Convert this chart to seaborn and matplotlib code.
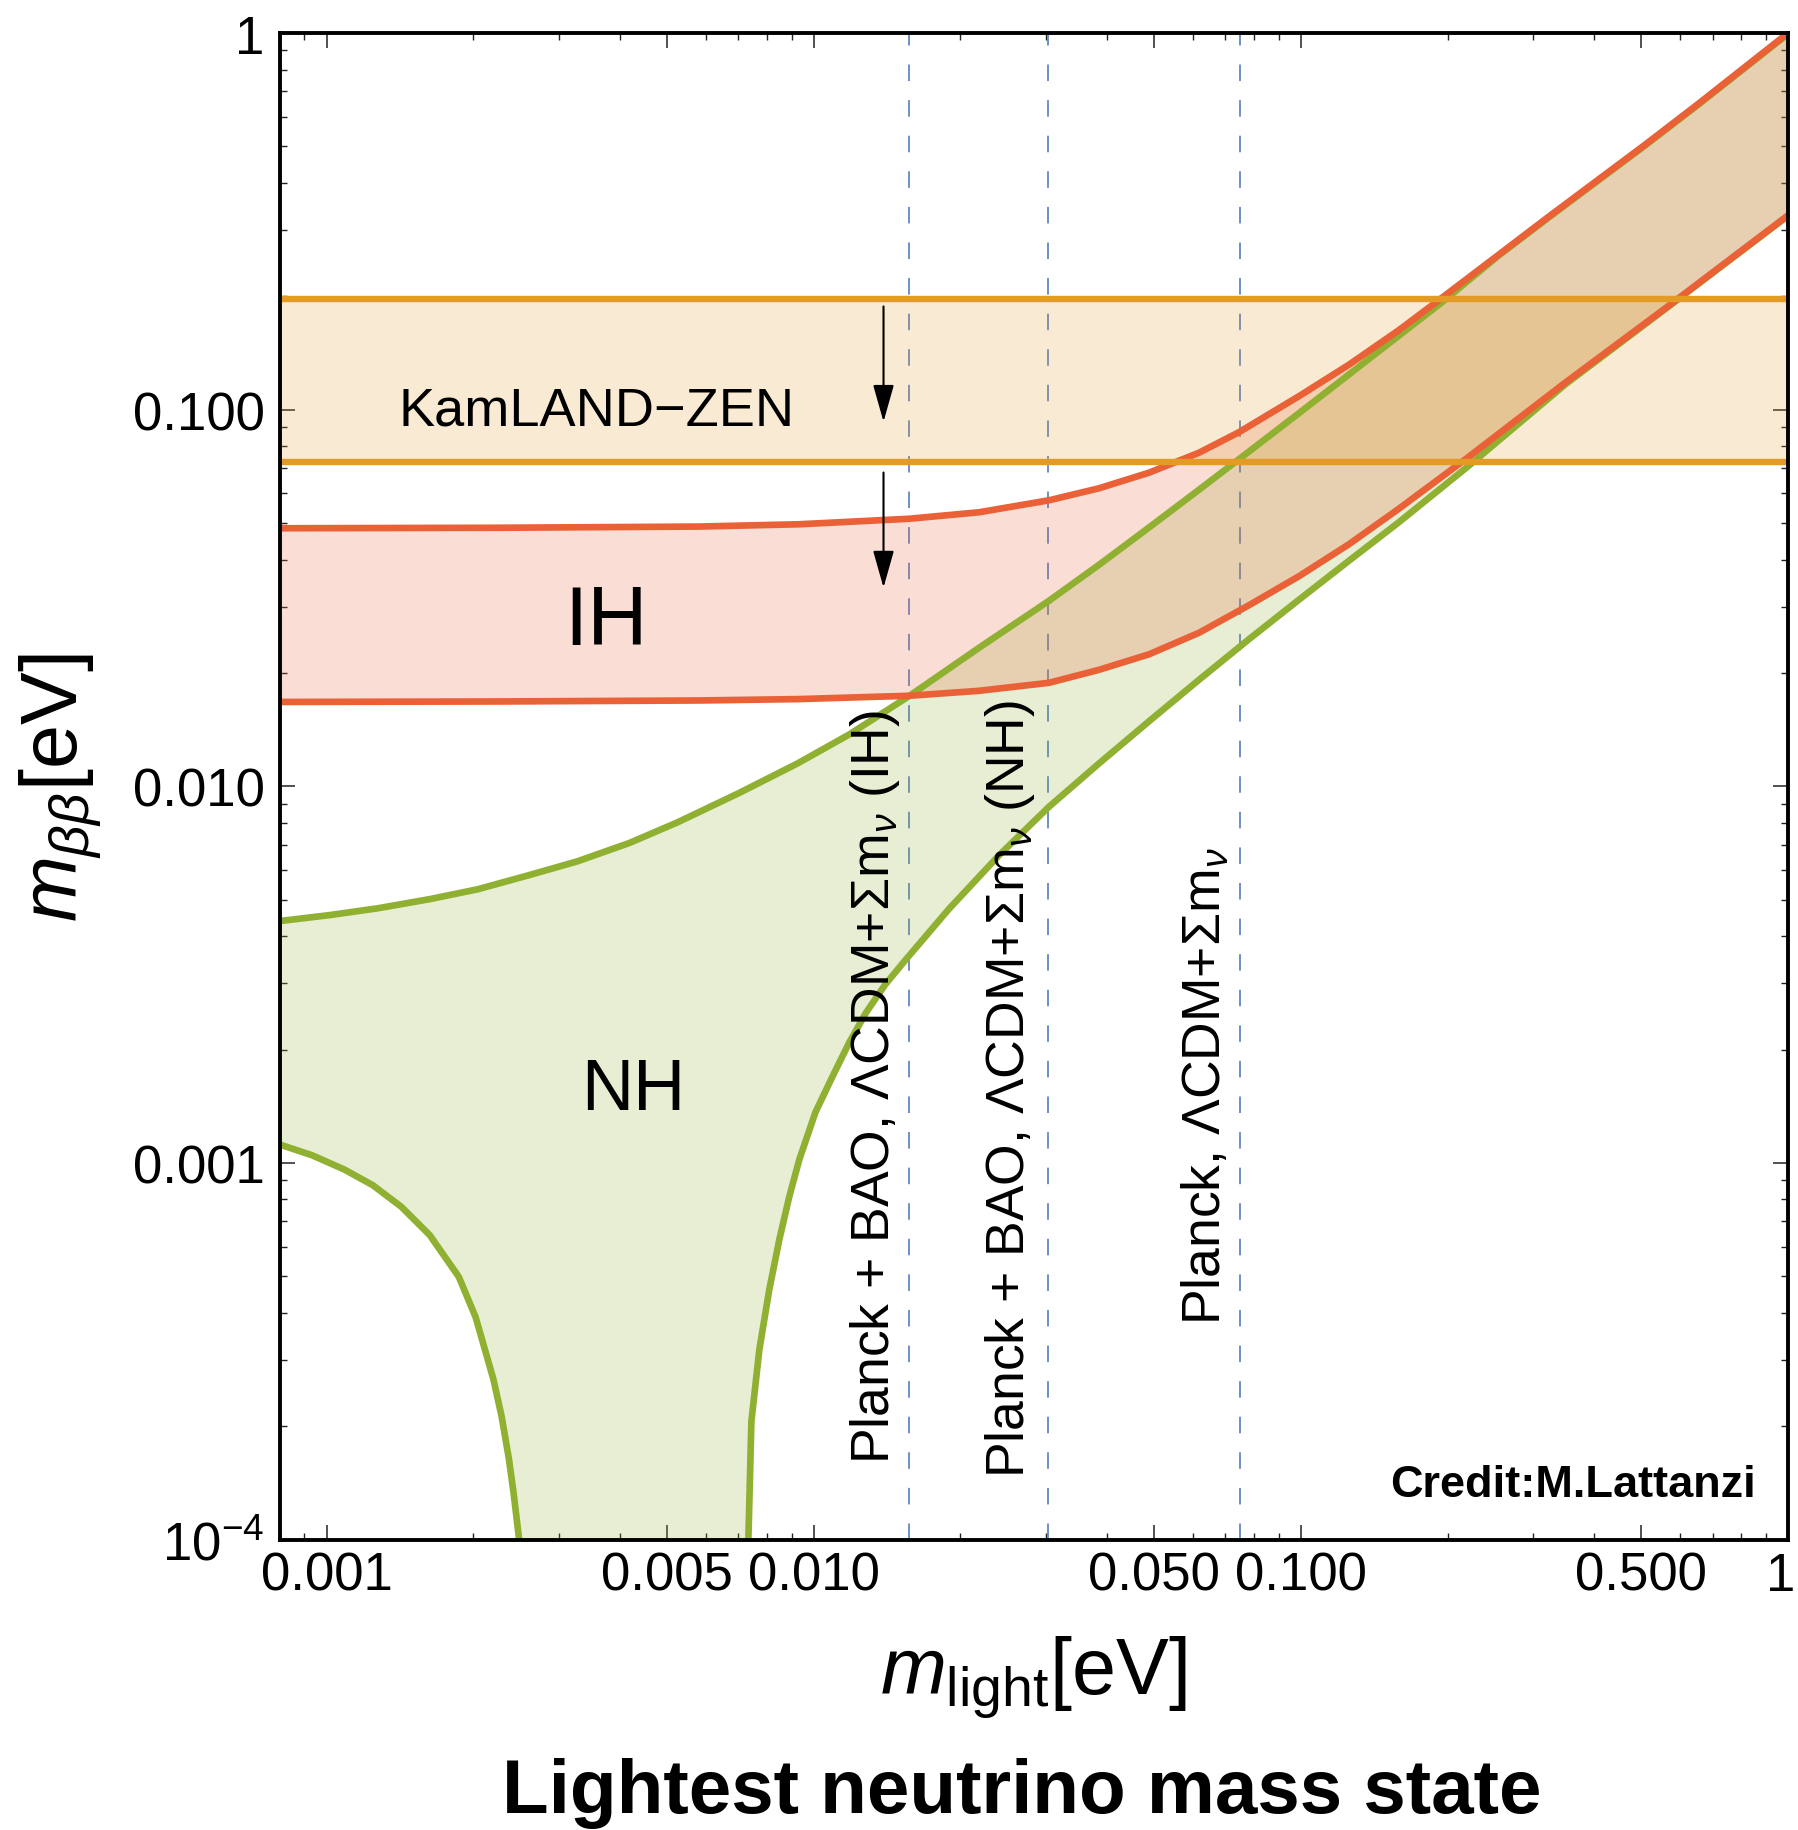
import matplotlib
matplotlib.use("Agg")
import matplotlib.pyplot as plt
import matplotlib.transforms as mtransforms
import seaborn as sns
from matplotlib.ticker import FixedLocator, FixedFormatter, NullFormatter

# ---- band edges: lightest neutrino mass [eV] -> effective Majorana mass [eV] ----
ih_upper_x = [0.0008, 0.002264, 0.005822, 0.009338, 0.015697, 0.021847, 0.03041, 0.038518, 0.04877,
              0.061762, 0.074607, 0.09906, 0.125481, 0.158893, 0.191874, 0.254719, 0.322627, 0.509304,
              0.655145, 1.0]
ih_upper_y = [0.048442, 0.04859, 0.048947, 0.04964, 0.051337, 0.053419, 0.057479, 0.061866, 0.068042,
              0.07687, 0.087148, 0.108593, 0.131674, 0.162646, 0.195329, 0.257991, 0.325538, 0.505847,
              0.649654, 1.0]

ih_lower_x = [0.0008, 0.002264, 0.005822, 0.009338, 0.015697, 0.021847, 0.03041, 0.038518, 0.04877,
              0.061762, 0.078193, 0.09906, 0.125481, 0.158893, 0.2177, 0.349138, 0.5685, 1.0]
ih_lower_y = [0.016749, 0.0168, 0.016903, 0.017048, 0.017396, 0.017933, 0.018834, 0.020392, 0.022415,
              0.025566, 0.030251, 0.036124, 0.04393, 0.05459, 0.073875, 0.118087, 0.18866, 0.3281]

nh_upper_x = [0.0008, 0.0010143, 0.0012725, 0.0016263, 0.0020408, 0.0026085, 0.0032721, 0.0041822,
              0.0052481, 0.0070332, 0.0092478, 0.0118233, 0.0156966, 0.0218466, 0.03041, 0.0385184,
              0.0487706, 0.061762, 0.074607, 0.09906, 0.1254812, 0.1949, 0.254719, 0.322627, 0.509304,
              0.655145, 1.0]
nh_upper_y = [0.0043877, 0.0045514, 0.0047446, 0.0050166, 0.0053292, 0.0058158, 0.0063234, 0.0070738,
              0.0080222, 0.0096103, 0.0114942, 0.013732, 0.0173711, 0.023339, 0.0311094, 0.0387558,
              0.0486779, 0.0613011, 0.0738745, 0.0978809, 0.124053, 0.193, 0.2567, 0.3239, 0.5033,
              0.6464, 0.995]

# lower NH edge: it dips to zero between the two branches
nh_lower_left_x = [0.0008, 0.00093161, 0.0010861, 0.001243, 0.0014229, 0.0016263, 0.0018666, 0.002021,
                   0.002198, 0.0022857, 0.0023648, 0.0024191, 0.0024828]
nh_lower_left_y = [0.0011197, 0.0010489, 0.00096102, 0.00087296, 0.00076478, 0.00064377, 0.00049855,
                   0.00038973, 0.00026672, 0.00021218, 0.00016427, 0.00013267, 0.0001]

nh_lower_right_x = [0.007338, 0.007443, 0.00773, 0.0081, 0.008494, 0.008905, 0.009338, 0.010072, 0.010929,
                    0.011823, 0.012796, 0.014019, 0.015456, 0.018963, 0.024015, 0.03041, 0.038518, 0.04877,
                    0.061762, 0.078193, 0.09906, 0.125481, 0.158893, 0.22113, 0.349138, 0.5685, 1.0]
nh_lower_right_y = [0.0001, 0.000206, 0.00032, 0.000461, 0.000626, 0.000815, 0.001022, 0.001362, 0.0017,
                    0.002089, 0.002506, 0.002979, 0.003471, 0.004734, 0.006566, 0.008833, 0.011508, 0.014887,
                    0.019178, 0.024575, 0.03129, 0.039713, 0.050258, 0.071, 0.1168, 0.1879, 0.3272]

# KamLAND-Zen excluded band
kamland_low = 0.0725
kamland_high = 0.197

# cosmological upper bounds on the lightest mass
planck_bounds = [0.01566, 0.0303, 0.0748]
planck_labels = ["Planck + BAO, ΛCDM+Σ$\\mathrm{m}_{\\nu}$ (IH)",
                 "Planck + BAO, ΛCDM+Σ$\\mathrm{m}_{\\nu}$ (NH)",
                 "Planck, ΛCDM+Σ$\\mathrm{m}_{\\nu}$"]

x_major = [0.001, 0.005, 0.01, 0.05, 0.1, 0.5, 1.0]
x_major_labels = ["0.001", "0.005", "0.010", "0.050", "0.100", "0.500", "1"]
y_major = [1e-4, 1e-3, 1e-2, 0.1, 1.0]
y_major_labels = ["$10^{-4}$", "0.001", "0.010", "0.100", "1"]

GREEN = "#8FB031"
RED = "#EA6137"
ORANGE = "#E49B25"
DASH = "#6B8FC8"

sns.set_theme(style="ticks")
plt.rcParams["font.family"] = ["Liberation Sans", "DejaVu Sans"]
plt.rcParams["mathtext.fontset"] = "custom"
plt.rcParams["mathtext.rm"] = "Liberation Sans"
plt.rcParams["mathtext.it"] = "Liberation Sans:italic"
plt.rcParams["mathtext.bf"] = "Liberation Sans:bold"
for key in ["text.color", "axes.labelcolor", "xtick.color", "ytick.color", "axes.edgecolor"]:
    plt.rcParams[key] = "black"

fig = plt.figure(figsize=(17.99, 18.31), dpi=100)
ax = fig.add_axes([0.1554, 0.1586, 0.8385, 0.8228])
ax.set_xscale("log")
ax.set_yscale("log")

# dashed cosmology bounds, beneath the shaded bands
for xv in planck_bounds:
    ax.axvline(xv, color=DASH, lw=1.4, dashes=(8.5, 9.8), zorder=1)

# shaded regions
nh_poly_x = nh_upper_x + nh_lower_right_x[::-1] + nh_lower_left_x[::-1]
nh_poly_y = nh_upper_y + nh_lower_right_y[::-1] + nh_lower_left_y[::-1]
ax.fill(nh_poly_x, nh_poly_y, color=GREEN, alpha=0.21, lw=0, zorder=1.5)

ih_poly_x = ih_upper_x + ih_lower_x[::-1]
ih_poly_y = ih_upper_y + ih_lower_y[::-1]
ax.fill(ih_poly_x, ih_poly_y, color=RED, alpha=0.21, lw=0, zorder=1.6)

ax.axhspan(kamland_low, kamland_high, color=ORANGE, alpha=0.2, lw=0, zorder=1.7)

# band edges
line_kw = dict(estimator=None, sort=False, linewidth=4.8, legend=False, ax=ax,
               solid_joinstyle="round")
sns.lineplot(x=nh_upper_x, y=nh_upper_y, color=GREEN, zorder=3, **line_kw)
sns.lineplot(x=nh_lower_left_x, y=nh_lower_left_y, color=GREEN, zorder=3, **line_kw)
sns.lineplot(x=nh_lower_right_x, y=nh_lower_right_y, color=GREEN, zorder=3, **line_kw)
sns.lineplot(x=ih_upper_x, y=ih_upper_y, color=RED, zorder=3.2, **line_kw)
sns.lineplot(x=ih_lower_x, y=ih_lower_y, color=RED, zorder=3.2, **line_kw)
ax.axhline(kamland_low, color=ORANGE, lw=4.6, zorder=3.4)
ax.axhline(kamland_high, color=ORANGE, lw=4.6, zorder=3.4)

ax.set_xlim(0.0008, 1.0)
ax.set_ylim(1e-4, 1.0)

# arrows pointing down from the KamLAND-Zen limit
arrow_x = 0.0139
for y0, y1 in [(0.188, 0.0929), (0.0681, 0.0337)]:
    ax.annotate("", xy=(arrow_x, y1), xytext=(arrow_x, y0),
                arrowprops=dict(arrowstyle="-|>,head_length=23,head_width=6.5",
                                mutation_scale=1, color="black", lw=1.5,
                                shrinkA=0, shrinkB=0),
                zorder=5)

# region labels
ax.text(0.00358, 0.0912, "KamLAND−ZEN", fontsize=39, ha="center", va="baseline", zorder=6)
ax.text(0.003735, 0.02383, "IH", fontsize=60, ha="center", va="baseline", zorder=6)
ax.text(0.004258, 0.001393, "NH", fontsize=52, ha="center", va="baseline", zorder=6)

label_anchor = [(0.01429, 0.00016), (0.02704, 0.000147), (0.06843, 0.000373)]
for (tx, ty), lab in zip(label_anchor, planck_labels):
    ax.text(tx, ty, lab, fontsize=38.5, rotation=90, rotation_mode="anchor",
            ha="left", va="baseline", zorder=6)

ax.text(0.858, 0.0001303, "Credit:M.Lattanzi", fontsize=32.5, fontweight="bold",
        ha="right", va="baseline", zorder=6)

# ticks
x_minor = [k * 10.0 ** e for e in range(-4, 1) for k in range(1, 10)
           if 0.0008 <= k * 10.0 ** e <= 1.0 and not any(abs(k * 10.0 ** e - m) < 1e-12 for m in x_major)]
y_minor = [k * 10.0 ** e for e in range(-4, 0) for k in range(2, 10)]
ax.xaxis.set_major_locator(FixedLocator(x_major))
ax.xaxis.set_major_formatter(FixedFormatter(x_major_labels))
ax.xaxis.set_minor_locator(FixedLocator(x_minor))
ax.xaxis.set_minor_formatter(NullFormatter())
ax.yaxis.set_major_locator(FixedLocator(y_major))
ax.yaxis.set_major_formatter(FixedFormatter(y_major_labels))
ax.yaxis.set_minor_locator(FixedLocator(y_minor))
ax.yaxis.set_minor_formatter(NullFormatter())

ax.tick_params(which="both", direction="in", top=True, right=True, color="#222222")
ax.tick_params(which="major", length=10.5, width=1.1, labelsize=38)
ax.tick_params(which="minor", length=5, width=1.0)
ax.tick_params(axis="x", which="major", pad=8)
ax.tick_params(axis="y", which="major", pad=10.8)

# keep the "1" label at the right end inside the canvas
last_tick = ax.xaxis.get_major_ticks()[-1].label1
last_tick.set_transform(last_tick.get_transform()
                        + mtransforms.ScaledTranslation(-0.07, 0, fig.dpi_scale_trans))

for sp in ax.spines.values():
    sp.set_linewidth(2.8)
    sp.set_color("black")
    sp.set_zorder(7)

ax.set_xlabel(r"$m_{\mathrm{light}}$[eV]", fontsize=57)
ax.set_ylabel(r"$m_{\beta\beta}$[eV]", fontsize=57)
ax.xaxis.set_label_coords(0.5, -0.062)
ax.yaxis.set_label_coords(-0.1163, 0.5)

fig.text(0.568, 0.0097, "Lightest neutrino mass state", fontsize=55, fontweight="bold",
         ha="center", va="baseline")

fig.savefig("out.png", dpi=100)
